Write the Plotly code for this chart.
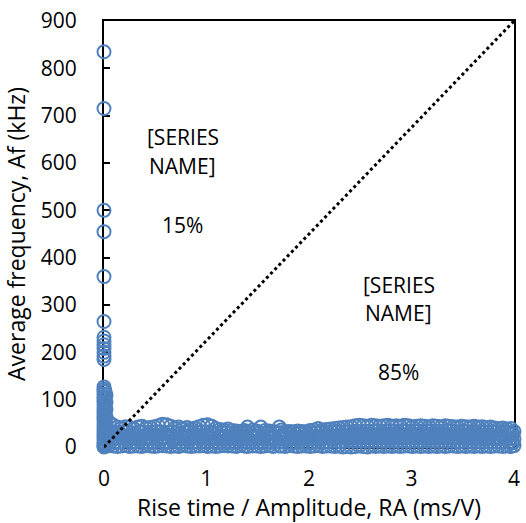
import plotly.graph_objects as go

# ---- data ----
# column of events at RA ~ 0
x_col = [0.0, 0.0, 0.0, 0.0, 0.0, 0.0, 0.0, 0.0, 0.0, 0.0, 0.0, 0.0, 0.0,
         0.0, 0.0, 0.0, 0.0, 0.0, 0.0, 0.0, 0.0, 0.0, 0.0, 0.0, 0.0, 0.0,
         0.0, 0.0, 0.0, 0.0, 0.0, 0.0, 0.0, 0.0, 0.0, 0.0, 0.0,
         0.01, 0.01, 0.01, 0.01, 0.01, 0.01, 0.01, 0.01, 0.01, 0.01,
         0.02, 0.02, 0.02, 0.02, 0.02, 0.02, 0.02, 0.02]
y_col = [835, 715, 500, 455, 360, 265, 232, 224, 216, 208, 200, 192, 185,
         127, 122, 117, 112, 106, 100, 94, 88, 82, 76, 70, 64, 58,
         52, 46, 40, 34, 28, 22, 16, 10, 5, 2, 0,
         118, 104, 90, 76, 62, 48, 34, 20, 8, 1,
         110, 95, 80, 65, 50, 35, 18, 3]

# main band of events
x_band = [0.05, 0.09, 0.13, 0.17, 0.21, 0.25, 0.29, 0.33, 0.37, 0.41,
          0.45, 0.49, 0.53, 0.57, 0.61, 0.65, 0.69, 0.73, 0.77, 0.81,
          0.85, 0.89, 0.93, 0.97, 1.01, 1.05, 1.09, 1.13, 1.17, 1.21,
          1.25, 1.29, 1.33, 1.37, 1.40, 1.45, 1.49, 1.53, 1.57, 1.61,
          1.65, 1.71, 1.73, 1.77, 1.81, 1.85, 1.89, 1.93, 1.97, 2.01,
          2.05, 2.09, 2.13, 2.17, 2.21, 2.25, 2.29, 2.33, 2.37, 2.41,
          2.45, 2.49, 2.53, 2.57, 2.61, 2.65, 2.69, 2.73, 2.77, 2.81,
          2.85, 2.89, 2.93, 2.97, 3.01, 3.05, 3.09, 3.13, 3.17, 3.21,
          3.25, 3.29, 3.33, 3.37, 3.41, 3.45, 3.49, 3.53, 3.57, 3.61,
          3.65, 3.69, 3.73, 3.77, 3.81, 3.85, 3.89, 3.93, 3.97, 4.00]
x_band2 = [0.07, 0.11, 0.15, 0.19, 0.23, 0.27, 0.31, 0.35, 0.39, 0.43,
           0.47, 0.51, 0.55, 0.59, 0.63, 0.67, 0.71, 0.75, 0.79, 0.83,
           0.87, 0.91, 0.95, 0.99, 1.03, 1.07, 1.11, 1.15, 1.19, 1.23,
           1.27, 1.31, 1.35, 1.39, 1.43, 1.47, 1.51, 1.55, 1.59, 1.63,
           1.67, 1.71, 1.75, 1.79, 1.83, 1.87, 1.91, 1.95, 1.99, 2.03,
           2.07, 2.11, 2.15, 2.19, 2.23, 2.27, 2.31, 2.35, 2.39, 2.43,
           2.47, 2.51, 2.55, 2.59, 2.63, 2.67, 2.71, 2.75, 2.79, 2.83,
           2.87, 2.91, 2.95, 2.99, 3.03, 3.07, 3.11, 3.15, 3.19, 3.23,
           3.27, 3.31, 3.35, 3.39, 3.43, 3.47, 3.51, 3.55, 3.59, 3.63,
           3.67, 3.71, 3.75, 3.79, 3.83, 3.87, 3.91, 3.95, 3.98, 3.99]
y_top = [52, 46, 42, 40, 43, 41, 39, 42, 44, 40,
         41, 43, 45, 48, 47, 44, 40, 42, 39, 41,
         38, 40, 43, 46, 47, 44, 39, 37, 36, 38,
         35, 34, 33, 35, 42, 36, 34, 42, 35, 34,
         33, 42, 36, 33, 33, 32, 34, 33, 32, 35,
         36, 39, 36, 37, 38, 39, 40, 41, 42, 43,
         45, 46, 45, 44, 46, 45, 44, 45, 46, 44,
         45, 44, 46, 45, 43, 44, 45, 44, 43, 45,
         44, 43, 45, 44, 43, 42, 44, 43, 42, 44,
         42, 43, 41, 42, 40, 39, 40, 38, 39, 33]
y_upper = [33, 31, 30, 32, 33, 30, 29, 32, 31, 30,
           31, 33, 32, 30, 31, 33, 30, 29, 31, 32,
           30, 31, 33, 31, 32, 30, 29, 31, 30, 29,
           28, 30, 29, 31, 30, 32, 29, 28, 30, 29,
           31, 30, 28, 29, 27, 28, 29, 28, 27, 29,
           30, 31, 29, 30, 31, 32, 31, 32, 33, 32,
           34, 33, 34, 33, 34, 35, 33, 34, 35, 34,
           33, 35, 34, 33, 35, 34, 33, 35, 34, 33,
           34, 33, 35, 34, 33, 32, 34, 33, 32, 33,
           32, 33, 31, 32, 31, 30, 31, 30, 29, 27]
y_mid = [24, 21, 19, 22, 23, 20, 18, 22, 21, 19,
         20, 23, 22, 19, 21, 24, 20, 18, 21, 22,
         19, 21, 23, 20, 22, 19, 18, 21, 20, 19,
         18, 20, 19, 21, 20, 22, 19, 18, 20, 19,
         21, 20, 18, 19, 17, 18, 19, 18, 17, 19,
         20, 21, 19, 20, 21, 22, 21, 22, 23, 22,
         24, 23, 24, 22, 23, 24, 22, 23, 24, 23,
         22, 24, 23, 22, 24, 23, 22, 24, 23, 22,
         23, 22, 24, 23, 22, 21, 23, 22, 21, 22,
         21, 22, 20, 21, 20, 19, 20, 19, 18, 17]
y_lower = [12, 11, 10, 12, 13, 10, 11, 12, 11, 10,
           11, 12, 12, 10, 11, 13, 11, 10, 11, 12,
           10, 11, 12, 11, 12, 10, 10, 11, 11, 10,
           10, 11, 10, 12, 11, 12, 10, 10, 11, 10,
           11, 11, 10, 10, 9, 10, 11, 10, 9, 10,
           11, 12, 10, 11, 12, 12, 11, 12, 13, 12,
           13, 12, 13, 12, 13, 13, 12, 12, 13, 12,
           12, 13, 12, 12, 13, 12, 12, 13, 12, 12,
           12, 12, 13, 12, 12, 11, 12, 12, 11, 12,
           11, 12, 11, 11, 11, 10, 11, 10, 10, 9]
y_low = [3, 2, 1, 2, 3, 1, 2, 2, 1, 3,
         2, 1, 2, 3, 2, 1, 2, 1, 3, 2,
         1, 2, 2, 3, 1, 2, 1, 2, 3, 2,
         2, 1, 3, 2, 1, 2, 2, 1, 2, 3,
         1, 2, 2, 1, 3, 2, 1, 2, 2, 1,
         2, 3, 1, 2, 2, 1, 2, 0, 1, 0,
         1, 2, 1, 0, 2, 1, 2, 1, 2, 1,
         2, 1, 2, 2, 1, 2, 1, 2, 1, 2,
         1, 2, 1, 2, 2, 1, 2, 1, 2, 1,
         2, 1, 2, 1, 2, 2, 1, 2, 1, 3]

# reference line (RA vs AF boundary)
x_line = [0, 4]
y_line = [0, 900]

# labels
region_labels = ["[SERIES", "NAME]", "15%", "[SERIES", "NAME]", "85%"]
label_x = [0.77, 0.77, 0.77, 2.875, 2.875, 2.875]
label_y = [655, 594, 469, 342, 283, 158]

x_ticks = [0, 1, 2, 3, 4]
y_ticks = [0, 100, 200, 300, 400, 500, 600, 700, 800, 900]

# ---- figure ----
xs = x_band + x_band2 + x_band + x_band2 + x_band + x_col
ys = y_low + y_lower + y_mid + y_upper + y_top + y_col

FONT = "Open Sans"
FS_TICK = 21
FS_LABEL = 21
FS_TITLE = 23
BLUE = "#4F81BD"

fig = go.Figure()
fig.add_trace(go.Scatter(
    x=xs, y=ys, mode="markers",
    marker=dict(symbol="circle-open", size=13, color=BLUE,
                line=dict(width=2, color=BLUE)),
    cliponaxis=False, showlegend=False, hoverinfo="skip"))
fig.add_trace(go.Scatter(
    x=x_line, y=y_line, mode="lines",
    line=dict(color="black", width=3, dash="3px,3px"),
    cliponaxis=False, showlegend=False, hoverinfo="skip"))

for t, xx, yy in zip(region_labels, label_x, label_y):
    fig.add_annotation(x=xx, y=yy, text=t, showarrow=False,
                       font=dict(family=FONT, size=FS_LABEL, color="black"),
                       xanchor="center", yanchor="middle")

fig.update_layout(
    width=526, height=523,
    margin=dict(l=104, r=6, t=21, b=76),
    paper_bgcolor="white", plot_bgcolor="white",
    font=dict(family=FONT, size=FS_TICK, color="black"),
    xaxis=dict(range=[0, 4], tickvals=x_ticks, showgrid=False, zeroline=False,
               showline=True, linecolor="black", linewidth=2, mirror=True,
               ticks="outside", ticklen=12, tickcolor="rgba(0,0,0,0)",
               tickfont=dict(family=FONT, size=FS_TICK),
               layer="below traces",
               title=dict(text="Rise time / Amplitude, RA (ms/V)", standoff=6,
                          font=dict(family=FONT, size=FS_TITLE))),
    yaxis=dict(range=[0, 900], tickvals=y_ticks, showgrid=False, zeroline=False,
               showline=True, linecolor="black", linewidth=2, mirror=True,
               ticks="inside", ticklen=6, tickwidth=2, tickcolor="black",
               tickfont=dict(family=FONT, size=FS_TICK),
               ticklabelstandoff=21, layer="below traces",
               title=dict(text="Average frequency, Af (kHz)", standoff=9,
                          font=dict(family=FONT, size=FS_TITLE))),
)

fig.write_html("out.html")
